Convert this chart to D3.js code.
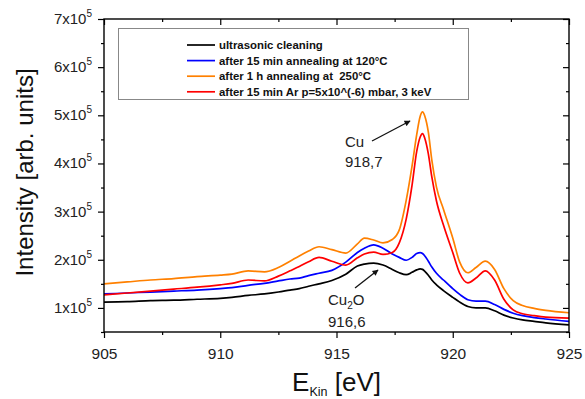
<!DOCTYPE html>
<html>
<head>
<meta charset="utf-8">
<script src="https://cdn.jsdelivr.net/npm/d3@7"></script>
<style>
  body { margin: 0; background: #fff; }
  svg { font-family: Arial, "Liberation Sans", sans-serif; }
</style>
</head>
<body>
<div id="chart"></div>
<script>
// energy grid (eV) and intensities (arb. units)
const energy = [905, 906, 907, 908, 909, 910, 910.5, 911.2, 911.9, 912.5, 913, 913.4, 913.8, 914.25, 914.8, 915.4, 915.9, 916.2, 916.6, 917.0, 917.4, 917.7, 918.0, 918.25, 918.45, 918.6, 918.7, 918.8, 918.95, 919.1, 919.3, 919.6, 920.0, 920.3, 920.65, 921.0, 921.4, 921.8, 922.2, 922.6, 923.0, 923.5, 924, 925];

const ultrasonic = [112000, 113000, 115000, 116000, 118000, 120000, 122000, 126000, 129000, 133000, 137000, 140000, 145000, 150000, 157000, 170000, 187000, 191000, 193000, 189000, 180000, 173000, 169000, 174000, 179000, 181000, 180000, 176000, 168000, 158000, 148000, 136000, 122000, 112000, 103000, 100000, 100000, 94000, 85000, 79000, 75000, 72000, 69000, 65000];
const anneal120 = [129000, 131000, 133000, 135000, 137000, 140000, 142000, 147000, 151000, 156000, 160000, 162000, 167000, 172000, 178000, 195000, 215000, 224000, 231000, 224000, 212000, 205000, 199000, 205000, 213000, 215000, 213000, 208000, 197000, 185000, 172000, 158000, 140000, 128000, 117000, 114000, 114000, 107000, 97000, 89000, 84000, 80000, 77000, 72000];
const anneal250 = [150000, 154000, 158000, 161000, 165000, 168000, 170000, 177000, 175000, 184000, 197000, 208000, 218000, 227000, 221000, 214000, 233000, 245000, 241000, 235000, 242000, 262000, 324000, 395000, 460000, 498000, 507000, 498000, 465000, 407000, 351000, 305000, 245000, 195000, 173000, 184000, 197000, 180000, 140000, 115000, 105000, 99000, 95000, 90000];
const sputterAr = [127000, 131000, 135000, 139000, 143000, 148000, 151000, 158000, 156000, 166000, 177000, 186000, 196000, 205000, 197000, 189000, 204000, 212000, 216000, 211000, 215000, 235000, 285000, 355000, 425000, 455000, 462000, 452000, 420000, 372000, 322000, 272000, 215000, 172000, 152000, 162000, 177000, 158000, 118000, 96000, 88000, 84000, 81000, 79000];

const seriesNames = ['ultrasonic cleaning', 'after 15 min annealing at 120°C', 'after 1 h annealing at  250°C', 'after 15 min Ar p=5x10^(-6) mbar, 3 keV'];
const seriesColors = ['#000000', '#0000ff', '#ff8000', '#ff0000'];
const seriesValues = [ultrasonic, anneal120, anneal250, sputterAr];

const xTicks = [905, 910, 915, 920, 925];
const xMinor = [907.5, 912.5, 917.5, 922.5];
const yTicks = [100000, 200000, 300000, 400000, 500000, 600000, 700000];
const yMinor = [50000, 150000, 250000, 350000, 450000, 550000, 650000];

const width = 585;
const height = 399;
const margin = { top: 19, right: 16, bottom: 67, left: 104 };
const w = width - margin.left - margin.right;
const h = height - margin.top - margin.bottom;

const svg = d3.select('#chart').append('svg')
  .attr('width', width)
  .attr('height', height);

const g = svg.append('g')
  .attr('transform', `translate(${margin.left},${margin.top})`);

const x = d3.scaleLinear().domain([905, 925]).range([0, w]);
const y = d3.scaleLinear().domain([50000, 700000]).range([h, 0]);

// curves
const series = seriesValues.map((vals, i) => ({
  name: seriesNames[i],
  color: seriesColors[i],
  points: energy.map((e, j) => ({ e, v: vals[j] }))
}));

const line = d3.line()
  .x(d => x(d.e))
  .y(d => y(d.v))
  .curve(d3.curveMonotoneX);

// draw black first, then blue, orange, red on top
g.selectAll('.curve')
  .data(series)
  .enter()
  .append('path')
  .attr('class', 'curve')
  .attr('d', d => line(d.points))
  .attr('fill', 'none')
  .attr('stroke', d => d.color)
  .attr('stroke-width', 1.7);

// axes: outer ticks left/bottom, inner ticks top/right
function styleAxis(sel) {
  sel.select('.domain').remove();
  sel.selectAll('line').attr('stroke', '#000').attr('stroke-width', 1.2);
}

g.append('g')
  .attr('transform', `translate(0,${h})`)
  .call(d3.axisBottom(x).tickValues(xTicks).tickSize(6).tickFormat(d3.format('d')))
  .call(styleAxis)
  .call(s => s.selectAll('text')
    .attr('font-size', 15.5)
    .attr('fill', '#222')
    .attr('dy', '1.15em'));

g.append('g')
  .attr('transform', `translate(0,${h})`)
  .call(d3.axisBottom(x).tickValues(xMinor).tickSize(3).tickFormat(''))
  .call(styleAxis);

g.append('g')
  .call(d3.axisTop(x).tickValues(xTicks).tickSize(-6).tickFormat(''))
  .call(styleAxis);
g.append('g')
  .call(d3.axisTop(x).tickValues(xMinor).tickSize(-3).tickFormat(''))
  .call(styleAxis);

const yAxis = g.append('g')
  .call(d3.axisLeft(y).tickValues(yTicks).tickSize(6).tickFormat(''))
  .call(styleAxis);

g.append('g')
  .call(d3.axisLeft(y).tickValues(yMinor).tickSize(3).tickFormat(''))
  .call(styleAxis);

g.append('g')
  .attr('transform', `translate(${w},0)`)
  .call(d3.axisRight(y).tickValues(yTicks).tickSize(-6).tickFormat(''))
  .call(styleAxis);
g.append('g')
  .attr('transform', `translate(${w},0)`)
  .call(d3.axisRight(y).tickValues(yMinor).tickSize(-3).tickFormat(''))
  .call(styleAxis);

// y tick labels as "Nx10^5"
const yLab = yAxis.selectAll('.ylab')
  .data(yTicks)
  .enter()
  .append('text')
  .attr('class', 'ylab')
  .attr('x', -12)
  .attr('y', d => y(d) + 5)
  .attr('text-anchor', 'end')
  .attr('font-size', 15)
  .attr('fill', '#222');
yLab.append('tspan').text(d => `${d / 100000}x10`);
yLab.append('tspan').text('5').attr('font-size', 10).attr('dy', -7);

// frame
g.append('rect')
  .attr('width', w)
  .attr('height', h)
  .attr('fill', 'none')
  .attr('stroke', '#000')
  .attr('stroke-width', 1.4);

// axis titles
svg.append('text')
  .attr('transform', `translate(33,${margin.top + h / 2 - 3}) rotate(-90)`)
  .attr('text-anchor', 'middle')
  .attr('font-size', 24)
  .attr('fill', '#111')
  .text('Intensity [arb. units]');

const xt = svg.append('text')
  .attr('x', margin.left + w / 2)
  .attr('y', 391)
  .attr('text-anchor', 'middle')
  .attr('font-size', 26)
  .attr('fill', '#111');
xt.append('tspan').text('E');
xt.append('tspan').text('Kin').attr('font-size', 12.5).attr('dy', 5);
xt.append('tspan').text(' [eV]').attr('dy', -5);

// legend
const legend = svg.append('g');
legend.append('rect')
  .attr('x', 118.5)
  .attr('y', 28.5)
  .attr('width', 350)
  .attr('height', 71)
  .attr('fill', '#fff')
  .attr('stroke', '#888')
  .attr('stroke-width', 1);

const item = legend.selectAll('.item')
  .data(series)
  .enter()
  .append('g')
  .attr('class', 'item')
  .attr('transform', (d, i) => `translate(0,${45 + i * 15.6})`);

item.append('line')
  .attr('x1', 187)
  .attr('x2', 215)
  .attr('stroke', d => d.color)
  .attr('stroke-width', 1.7);

item.append('text')
  .attr('x', 219)
  .attr('y', 4)
  .attr('font-size', 11.4)
  .attr('font-weight', 'bold')
  .attr('fill', '#111')
  .style('white-space', 'pre')
  .text(d => d.name);

// annotations
svg.append('defs').append('marker')
  .attr('id', 'arrow')
  .attr('viewBox', '0 0 10 10')
  .attr('refX', 9)
  .attr('refY', 5)
  .attr('markerWidth', 8)
  .attr('markerHeight', 6)
  .attr('markerUnits', 'userSpaceOnUse')
  .attr('orient', 'auto')
  .append('path')
  .attr('d', 'M0,0L10,5L0,10z')
  .attr('fill', '#111');

const notes = svg.append('g').attr('font-size', 15).attr('fill', '#222');

notes.append('text').attr('x', 345).attr('y', 147).text('Cu');
notes.append('text').attr('x', 345).attr('y', 167).text('918,7');
notes.append('line')
  .attr('x1', 372).attr('y1', 141)
  .attr('x2', 410).attr('y2', 121)
  .attr('stroke', '#111')
  .attr('stroke-width', 1.3)
  .attr('marker-end', 'url(#arrow)');

const cu2o = notes.append('text').attr('x', 328).attr('y', 305);
cu2o.append('tspan').text('Cu');
cu2o.append('tspan').text('2').attr('font-size', 10).attr('dy', 4);
cu2o.append('tspan').text('O').attr('dy', -4);
notes.append('text').attr('x', 328).attr('y', 327).text('916,6');
notes.append('line')
  .attr('x1', 355).attr('y1', 288)
  .attr('x2', 378).attr('y2', 270)
  .attr('stroke', '#111')
  .attr('stroke-width', 1.3)
  .attr('marker-end', 'url(#arrow)');
</script>
</body>
</html>
